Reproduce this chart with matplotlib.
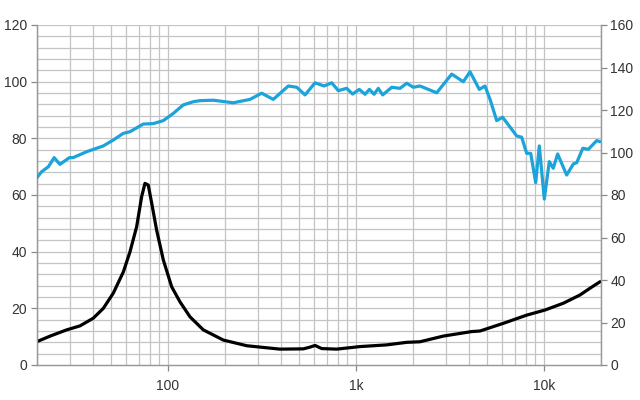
import matplotlib.pyplot as plt
from matplotlib.ticker import FixedLocator, NullFormatter, NullLocator

plt.rcParams['font.family'] = ['Liberation Sans', 'DejaVu Sans']

# Impedance curve (left axis)
imp_f = [20, 23.6, 28.9, 34.0, 40.0, 45.3, 51.2, 57.9, 62.8, 68.1, 72.4, 75.4, 78.5,
         81.9, 87.0, 94.4, 104.6, 115.8, 130.9, 154.1, 196.9,
         262.3, 394, 524.5, 568.7, 605.5, 657, 789, 1050, 1456, 1861, 2189, 2911,
         4124, 4567, 6070, 8090, 10120, 12666, 15530, 17570, 19870]
imp_v = [8.2, 10.2, 12.4, 13.8, 16.5, 20.0, 25.4, 32.9, 40.0, 48.8, 59.4, 64.1, 63.5,
         57.1, 47.6, 37.1, 27.6, 22.3, 17.0, 12.4, 8.8,
         6.8, 5.6, 5.7, 6.3, 6.9, 5.8, 5.6, 6.5, 7.1, 8.0, 8.2, 10.2,
         11.8, 12.0, 14.7, 17.6, 19.4, 21.8, 24.7, 27.1, 29.4]

# SPL curve (right axis)
spl_f = [20, 21.3, 23.1, 24.8, 26.6, 29.9, 31.3, 37.0, 45.3, 51.2, 57.8, 62.8, 73.9,
         83.5, 94.4, 106.7, 120.6, 136.3, 147.9, 174.2, 222.5, 272.9, 314.9, 363,
         436.6, 483.8, 535.6, 605.5, 676, 742.6, 805.5, 891.6, 959.6, 1041, 1117,
         1178, 1248, 1314, 1386, 1549, 1715, 1861, 2017, 2189, 2687, 3228, 3722,
         4040, 4528, 4853, 5164, 5602, 6026, 7155, 7604, 8090, 8496, 9033, 9441,
         10035, 10670, 11199, 11820, 13200, 14322, 14930, 16080, 17220, 19070, 19870]
spl_v = [88.0, 91.0, 93.3, 97.6, 94.4, 97.6, 97.6, 100.4, 103.1, 105.9, 109.0, 109.8, 113.4,
         113.6, 115.0, 118.4, 122.4, 123.9, 124.4, 124.6, 123.4, 125.0, 127.9, 125.0,
         131.3, 130.7, 127.1, 132.8, 131.3, 132.8, 129.1, 130.2, 127.5, 129.7, 127.4,
         129.7, 127.4, 130.2, 127.1, 130.7, 130.2, 132.6, 130.7, 131.3, 128.1, 136.9, 133.3,
         138.0, 129.7, 131.3, 125.0, 115.0, 116.6, 107.8, 107.2, 99.6, 99.6, 85.8, 103.1,
         78.1, 95.7, 92.6, 99.3, 89.4, 94.6, 95.2, 102.0, 101.5, 105.6, 105.1]

xticks = [100, 1000, 10000]
xlabels = ['100', '1k', '10k']

fig = plt.figure(figsize=(6.4, 4), dpi=100)
ax = fig.add_axes([36.6 / 640, 35 / 400, 564 / 640, 340 / 400])
ax2 = ax.twinx()

gridc = '#c4c4c4'
textc = '#333333'

ax.set_xscale('log')
ax.set_xlim(20, 20000)
ax.set_ylim(0, 120)
ax2.set_ylim(0, 160)

# grid: every log minor step, every 4 units vertically
vlines = [m * 10 ** e for e in range(1, 5) for m in range(1, 10) if 20 <= m * 10 ** e <= 20000]
for v in vlines:
    ax.axvline(v, color=gridc, lw=0.9, zorder=0)
for h in range(4, 121, 4):
    ax.axhline(h, color=gridc, lw=0.9, zorder=0)

ax.plot(imp_f, imp_v, color='black', lw=2.3, zorder=3,
        solid_joinstyle='round', solid_capstyle='round')
ax2.plot(spl_f, spl_v, color='#1ba3da', lw=2.3, zorder=3,
         solid_joinstyle='round', solid_capstyle='round')

ax.xaxis.set_major_locator(FixedLocator(xticks))
ax.set_xticklabels(xlabels)
ax.xaxis.set_minor_locator(NullLocator())
ax.xaxis.set_minor_formatter(NullFormatter())
ax.set_yticks(range(0, 121, 20))
ax2.set_yticks(range(0, 161, 20))

for a in (ax, ax2):
    a.tick_params(length=4, width=0.9, color='#888888', labelcolor=textc, labelsize=10, pad=3)
    for s in a.spines.values():
        s.set_color('#999999')
        s.set_linewidth(0.9)
    a.spines['top'].set_visible(False)

ax.tick_params(axis='x', pad=6)

fig.savefig('out.png', dpi=100)
